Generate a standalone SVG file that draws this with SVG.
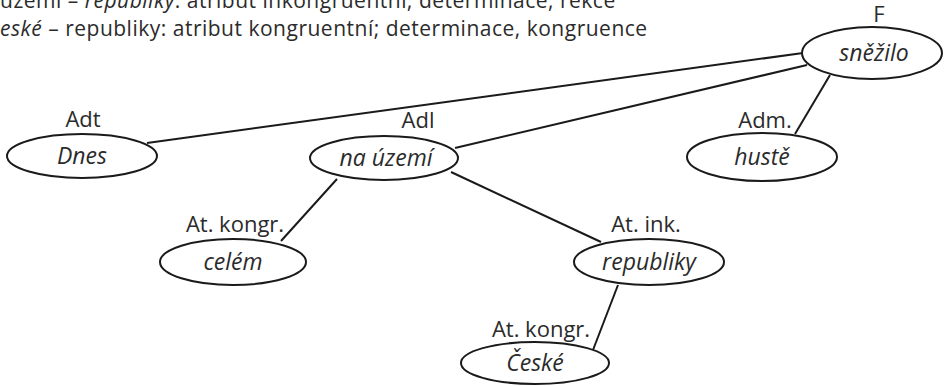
<svg xmlns="http://www.w3.org/2000/svg" width="945" height="386" viewBox="0 0 945 386">
<style>
text{font-family:"Open Sans","DejaVu Sans",sans-serif;fill:#2b2b2b}
.lab{font-size:22px;text-anchor:middle}
.word{font-size:23px;font-style:italic;text-anchor:middle}
.note{font-size:21px;letter-spacing:0.5px}
.it{font-style:italic}
ellipse{fill:#fff;stroke:#1a1a1a;stroke-width:2}
#connectors line{stroke:#1a1a1a;stroke-width:2}
</style>
<rect width="945" height="386" fill="#fff"/>
<text class="note" x="0" y="8">území – <tspan class="it">republiky</tspan>: atribut inkongruentní; determinace, rekce</text>
<text class="note" x="0" y="36"><tspan class="it">eské</tspan> – republiky: atribut kongruentní; determinace, kongruence</text>
<g id="connectors">
<line x1="147" y1="143" x2="803" y2="53"/>
<line x1="455" y1="148" x2="807" y2="65"/>
<line x1="795" y1="134" x2="830" y2="75"/>
<line x1="281" y1="241" x2="337" y2="179"/>
<line x1="451" y1="172" x2="601" y2="242"/>
<line x1="593" y1="350" x2="618" y2="285"/>
</g>
<g id="snezilo">
<ellipse cx="872" cy="53" rx="70" ry="26"/>
<text class="lab" x="879" y="22">F</text>
<text class="word" x="874" y="61">sněžilo</text>
</g>
<g id="dnes">
<ellipse cx="82" cy="156" rx="75" ry="22"/>
<text class="lab" x="83" y="127">Adt</text>
<text class="word" x="82" y="164">Dnes</text>
</g>
<g id="na-uzemi">
<ellipse cx="384" cy="158" rx="74" ry="22"/>
<text class="lab" x="418" y="128">Adl</text>
<text class="word" x="386" y="166">na území</text>
</g>
<g id="huste">
<ellipse cx="762" cy="157" rx="75" ry="24"/>
<text class="lab" x="765" y="128">Adm.</text>
<text class="word" x="762" y="165">hustě</text>
</g>
<g id="celem">
<ellipse cx="233" cy="262" rx="73" ry="23"/>
<text class="lab" x="235" y="232">At. kongr.</text>
<text class="word" x="233" y="270">celém</text>
</g>
<g id="republiky">
<ellipse cx="649" cy="262" rx="75" ry="23"/>
<text class="lab" x="646" y="232">At. ink.</text>
<text class="word" x="649" y="270">republiky</text>
</g>
<g id="ceske">
<ellipse cx="535" cy="363" rx="74" ry="21"/>
<text class="lab" x="541" y="337">At. kongr.</text>
<text class="word" x="535" y="371">České</text>
</g>
</svg>
